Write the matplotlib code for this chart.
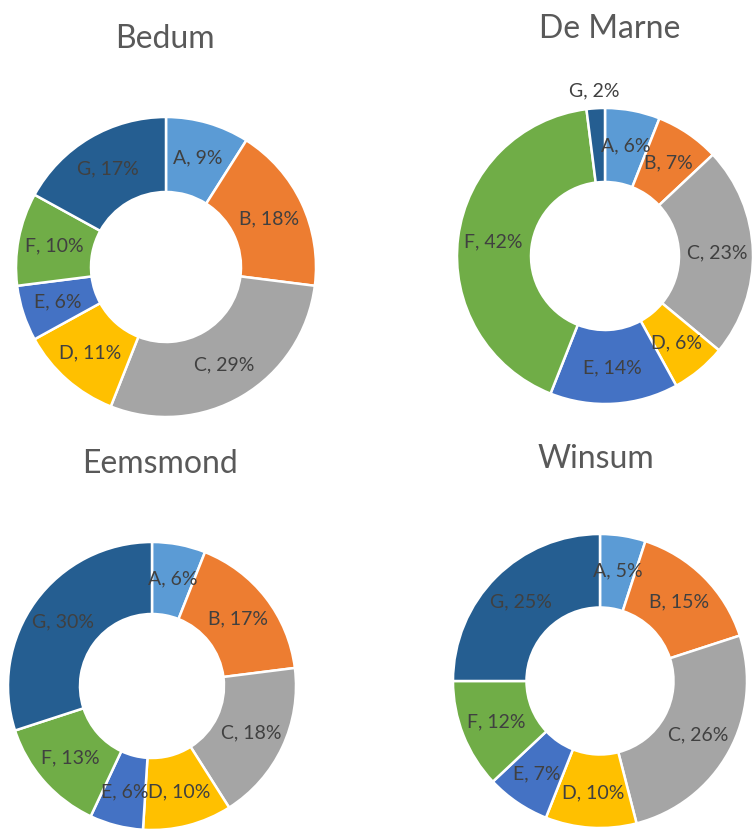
import matplotlib.pyplot as plt
import numpy as np

plt.rcParams['font.family'] = ['Lato', 'DejaVu Sans']

categories = ['A', 'B', 'C', 'D', 'E', 'F', 'G']
bedum = [9, 18, 29, 11, 6, 10, 17]
de_marne = [6, 7, 23, 6, 14, 42, 2]
eemsmond = [6, 17, 18, 10, 6, 13, 30]
winsum = [5, 15, 26, 10, 7, 12, 25]
titles = ['Bedum', 'De Marne', 'Eemsmond', 'Winsum']

colors = ['#5B9BD5', '#ED7D31', '#A5A5A5', '#FFC000', '#4472C4', '#70AD47', '#255E91']

W, H = 753, 832
fig = plt.figure(figsize=(W / 100, H / 100), dpi=100)

# (center x, center y, radius) in pixels from the top left, title (x, baseline y)
layout = [
    ((166, 267, 150), (165, 48)),
    ((605, 256, 148), (610, 38)),
    ((152, 686, 144), (160, 473)),
    ((600, 681, 147), (596, 468)),
]
# labels that sit outside the ring: (chart index, category) -> radius
label_radius = {(1, 'G'): 1.12}

for i, values in enumerate([bedum, de_marne, eemsmond, winsum]):
    (cx, cy, r), (tx, ty) = layout[i]
    ax = fig.add_axes([(cx - r) / W, (H - cy - r) / H, 2 * r / W, 2 * r / H])
    wedges, _ = ax.pie(values, colors=colors, startangle=90, counterclock=False,
                       radius=1, wedgeprops=dict(width=0.5, edgecolor='white', linewidth=1.8))
    ax.set_xlim(-1, 1)
    ax.set_ylim(-1, 1)
    ax.axis('off')
    for w, cat, v in zip(wedges, categories, values):
        ang = np.deg2rad((w.theta1 + w.theta2) / 2)
        rr = label_radius.get((i, cat), 0.76)
        ax.text(rr * np.cos(ang), rr * np.sin(ang), f'{cat}, {v}%', ha='center', va='center',
                fontsize=14, color='#404040', clip_on=False)
    fig.text(tx / W, 1 - ty / H, titles[i], ha='center', va='baseline', fontsize=23, color='#595959')

plt.savefig('out.png', dpi=100)
